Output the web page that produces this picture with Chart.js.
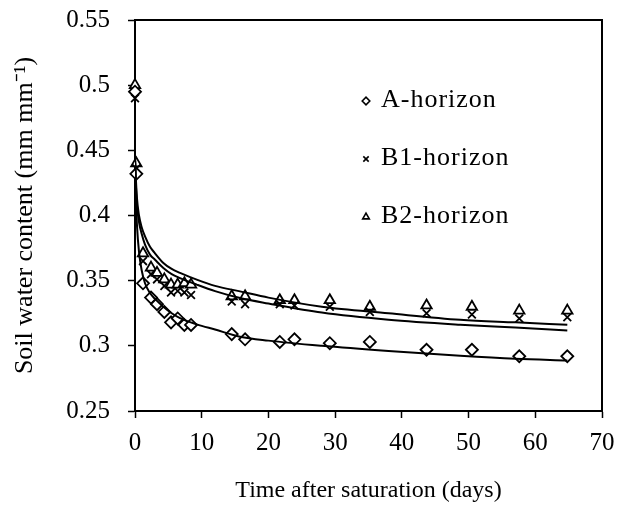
<!DOCTYPE html>
<html>
<head>
<meta charset="utf-8">
<script src="https://cdn.jsdelivr.net/npm/chart.js@4/dist/chart.umd.min.js"></script>
<style>
  html, body { margin: 0; padding: 0; background: #fff; }
  #wrap { width: 638px; height: 521px; }
</style>
</head>
<body>
<div id="wrap"><canvas id="chart" width="638" height="521"></canvas></div>
<script>
// measured days and soil water content per horizon
const days = [0, 0.2, 1.2, 2.4, 3.3, 4.4, 5.4, 6.4, 7.4, 8.4, 14.5, 16.5, 21.7, 23.9, 29.2, 35.2, 43.7, 50.5, 57.6, 64.8]
const aHorizon = [0.495, 0.432, 0.348, 0.337, 0.332, 0.326, 0.318, 0.321, 0.316, 0.316, 0.309, 0.305, 0.303, 0.305, 0.302, 0.303, 0.297, 0.297, 0.292, 0.292]
const b1Horizon = [0.49, 0.436, 0.365, 0.355, 0.351, 0.346, 0.341, 0.342, 0.341, 0.339, 0.334, 0.332, 0.332, 0.331, 0.330, 0.326, 0.325, 0.324, 0.321, 0.322]
const b2Horizon = [0.50, 0.44, 0.371, 0.360, 0.356, 0.351, 0.347, 0.347, 0.348, 0.347, 0.338, 0.338, 0.335, 0.335, 0.335, 0.330, 0.331, 0.330, 0.327, 0.327]

// fitted curves
const fitDays = [0.02, 0.1, 0.3, 0.6, 1, 1.5, 2.25, 3, 4.25, 5.5, 6.75, 9.25, 12, 15.75, 20, 28, 38, 48.75, 57, 64.8]
const aFit = [0.440, 0.418, 0.392, 0.372, 0.358, 0.348, 0.3405, 0.336, 0.330, 0.325, 0.3213, 0.3165, 0.3125, 0.307, 0.304, 0.300, 0.296, 0.2923, 0.290, 0.2887]
const b1Fit = [0.442, 0.428, 0.408, 0.395, 0.386, 0.3777, 0.370, 0.366, 0.3597, 0.355, 0.352, 0.347, 0.342, 0.3367, 0.3325, 0.3255, 0.320, 0.3162, 0.314, 0.3118]
const b2Fit = [0.444, 0.432, 0.413, 0.400, 0.391, 0.384, 0.376, 0.371, 0.3636, 0.359, 0.356, 0.3508, 0.346, 0.3418, 0.337, 0.330, 0.325, 0.320, 0.318, 0.3162]

const xTicks = ['0', '10', '20', '30', '40', '50', '60', '70']
const yTicks = ['0.25', '0.3', '0.35', '0.4', '0.45', '0.5', '0.55']
const labels = ['A-horizon', 'B1-horizon', 'B2-horizon']
const pointStyles = ['rectRot', 'crossRot', 'triangle']

const FONT = "'Liberation Serif', 'Times New Roman', serif"

const toXY = (xs, ys) => xs.map((x, i) => ({ x: x, y: ys[i] }))

const markerSet = (label, ys, style) => ({
    label: label,
    data: toXY(days, ys),
    showLine: false,
    pointStyle: style,
    pointRadius: style === 'crossRot' ? 5.5 : 6,
    pointBorderColor: '#000',
    pointBackgroundColor: '#fff',
    pointBorderWidth: 1.8,
    clip: false
})

const fitSet = (ys) => ({
    label: 'fit',
    data: toXY(fitDays, ys),
    showLine: true,
    borderColor: '#000',
    borderWidth: 2,
    pointRadius: 0,
    cubicInterpolationMode: 'monotone',
    fill: false
})

// legend drawn inside the plot
const legendPlugin = {
    id: 'insideLegend',
    afterDraw(chart) {
        const ctx = chart.ctx
        const rows = [100, 158, 216]
        ctx.save()
        ctx.font = '26px ' + FONT
        ctx.letterSpacing = '1px'
        ctx.textBaseline = 'middle'
        labels.forEach((txt, i) => {
            ctx.strokeStyle = '#000'
            ctx.fillStyle = '#fff'
            ctx.lineWidth = 1.6
            Chart.helpers.drawPoint(ctx, { pointStyle: pointStyles[i], radius: 3.8, borderWidth: 1.6 }, 366, rows[i] + 1)
            ctx.fillStyle = '#000'
            ctx.fillText(txt, 381, rows[i])
        })
        ctx.restore()
    }
}

const chart = document.getElementById('chart').getContext('2d')

new Chart(chart, {
    type: 'scatter',
    data: {
        datasets: [
            fitSet(aFit),
            fitSet(b1Fit),
            fitSet(b2Fit),
            markerSet(labels[0], aHorizon, pointStyles[0]),
            markerSet(labels[1], b1Horizon, pointStyles[1]),
            markerSet(labels[2], b2Horizon, pointStyles[2])
        ]
    },
    options: {
        responsive: false,
        animation: false,
        layout: { padding: { left: 6, right: 36, top: 20, bottom: 12 } },
        plugins: {
            legend: { display: false },
            tooltip: { enabled: false }
        },
        scales: {
            x: {
                type: 'linear',
                min: 0,
                max: 70,
                ticks: {
                    stepSize: 10,
                    color: '#000',
                    font: { family: FONT, size: 25 },
                    padding: 10,
                    maxRotation: 0,
                    callback: (v, i) => xTicks[i]
                },
                grid: { display: true, drawOnChartArea: false, drawTicks: true, tickLength: 7, color: '#000', tickWidth: 1.5 },
                border: { display: true, color: '#000', width: 2 },
                title: { display: true, text: 'Time after saturation (days)', color: '#000', font: { family: FONT, size: 24 }, padding: { top: 10 } },
                afterFit: (s) => { s.height = 98 }
            },
            x2: {
                type: 'linear',
                position: 'top',
                min: 0,
                max: 70,
                ticks: { display: false },
                grid: { display: false },
                border: { display: true, color: '#000', width: 2 },
                afterFit: (s) => { s.height = 0 }
            },
            y: {
                type: 'linear',
                min: 0.25,
                max: 0.55,
                ticks: {
                    stepSize: 0.05,
                    color: '#000',
                    font: { family: FONT, size: 25 },
                    padding: 18,
                    callback: (v, i) => yTicks[i]
                },
                grid: { display: true, drawOnChartArea: false, drawTicks: true, tickLength: 7, color: '#000', tickWidth: 1.5 },
                border: { display: true, color: '#000', width: 2 },
                title: { display: true, text: 'Soil water content (mm mm⁻¹)', color: '#000', font: { family: FONT, size: 26 }, padding: { bottom: 2 } },
                afterFit: (s) => { s.width = 129; s.paddingTop = 0 }
            },
            y2: {
                type: 'linear',
                position: 'right',
                min: 0.25,
                max: 0.55,
                ticks: { display: false },
                grid: { display: false },
                border: { display: true, color: '#000', width: 2 },
                afterFit: (s) => { s.width = 0 }
            }
        }
    },
    plugins: [legendPlugin]
})
</script>
</body>
</html>
